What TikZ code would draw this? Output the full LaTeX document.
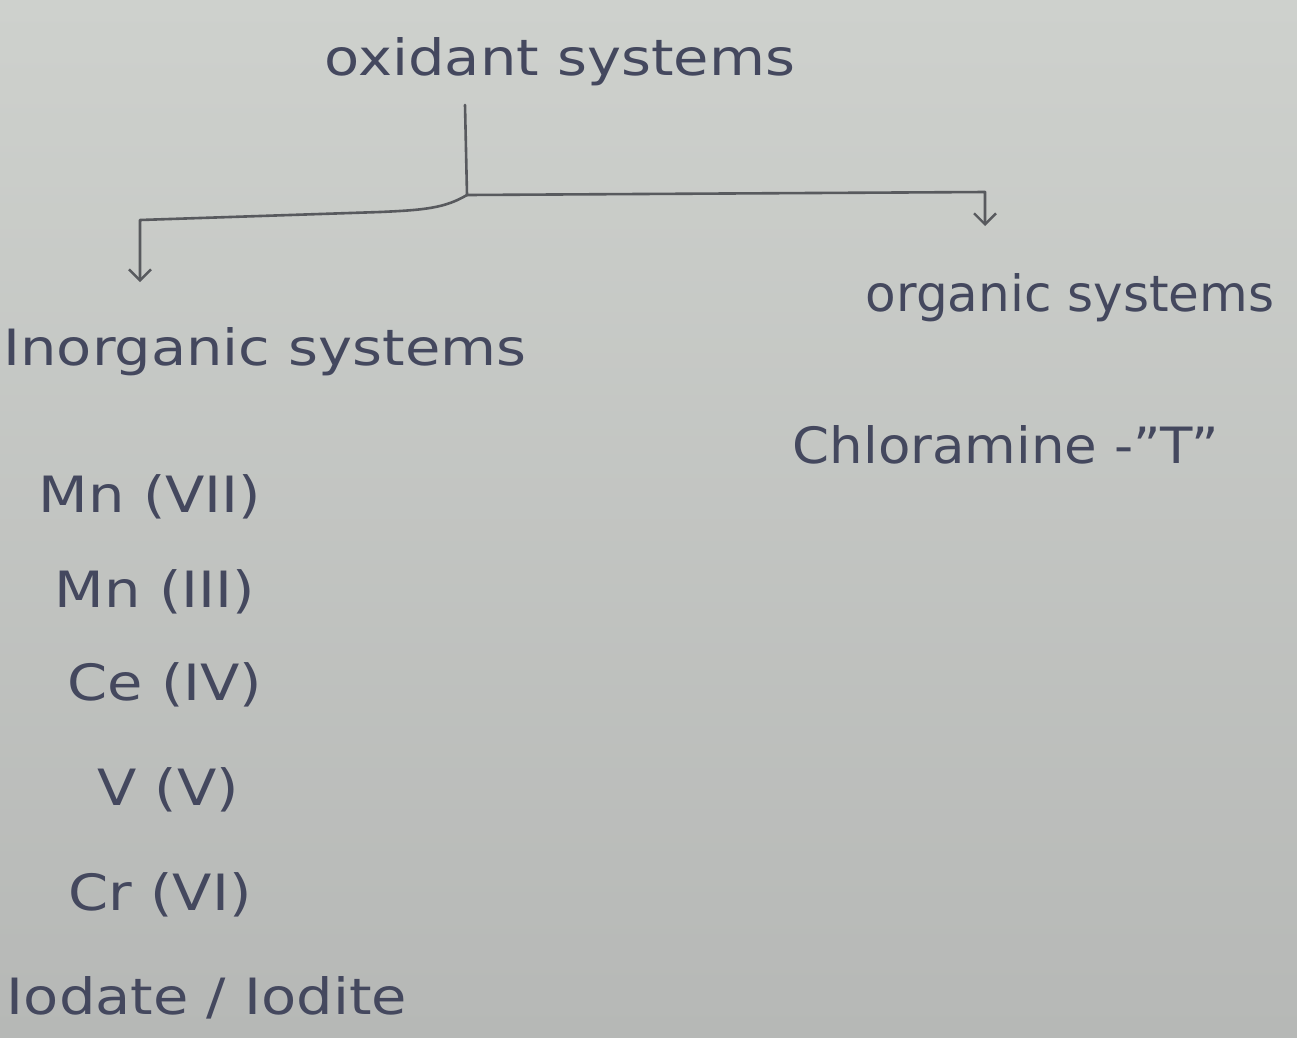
\documentclass[tikz,border=0pt]{standalone}
\usepackage{fontspec}
\setmainfont{DejaVu Sans}
\usetikzlibrary{arrows.meta}
\definecolor{ink}{RGB}{68,72,94}
\definecolor{pen}{RGB}{88,90,94}
\definecolor{papertop}{RGB}{206,209,205}
\definecolor{paperbot}{RGB}{182,184,182}
\newcommand{\wide}[2][1.15]{\scalebox{#1}[1]{#2}}
\tikzset{
  lbl/.style={text=ink, inner sep=0pt, font=\fontsize{50}{58}\selectfont},
  conn/.style={draw=pen, line width=2.6pt, line cap=round, line join=round},
  tip/.style={-{Straight Barb[length=11pt,width=22pt,line width=2.4pt]}}
}
\begin{document}
\begin{tikzpicture}[x=1pt,y=-1pt]
\shade[top color=papertop, bottom color=paperbot] (0,0) rectangle (1297,1037);
\useasboundingbox (0,0) rectangle (1297,1037);
% labels
\node[lbl] (top) at (560,62) {\wide{oxidant systems}};
\node[lbl] (inorg) at (265,352) {\wide{Inorganic systems}};
\node[lbl] (org) at (1070,298) {organic systems};
\node[lbl] (chl) at (1006,445) {\wide[1.06]{Chloramine -"T"}};
\node[lbl] (mn7) at (150,497) {\wide{Mn (VII)}};
\node[lbl] (mn3) at (155,592) {\wide{Mn (III)}};
\node[lbl] (ce4) at (165,685) {\wide{Ce (IV)}};
\node[lbl] (v5) at (168,790) {\wide{V (V)}};
\node[lbl] (cr6) at (160,895) {\wide{Cr (VI)}};
\node[lbl] (iod) at (207,998) {\wide{Iodate / Iodite}};
% connector geometry
\coordinate (j) at (467,195);
\coordinate (vs) at (465,105);
\coordinate (cl) at (140,220);
\coordinate (cr) at (985,192);
\coordinate (la) at (140,282);
\coordinate (ra) at (985,226);
\draw[conn] (vs) -- (j);
\draw[conn,tip] (j) .. controls (445,208) and (425,210) .. (380,212) -- (cl) -- (la);
\draw[conn,tip] (j) -- (cr) -- (ra);
\end{tikzpicture}
\end{document}
